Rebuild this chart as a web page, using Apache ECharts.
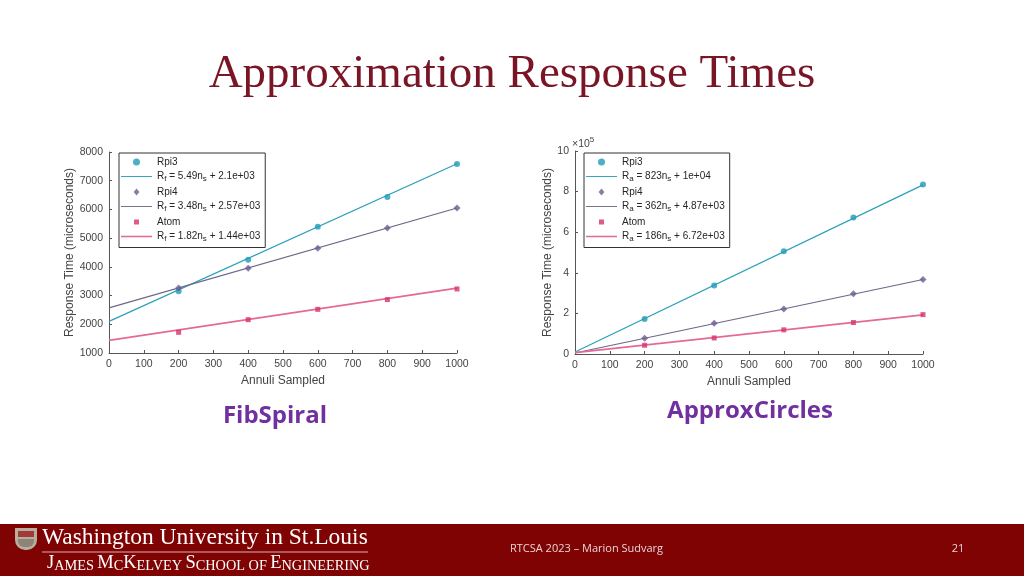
<!DOCTYPE html>
<html>
<head>
<meta charset="utf-8">
<script src="https://cdn.jsdelivr.net/npm/echarts@6/dist/echarts.min.js"></script>
<style>
html,body{margin:0;padding:0;background:#fff;}
#c{width:1024px;height:576px;}
</style>
</head>
<body>
<div id="c"></div>
<script>
// ---- data ----
const xSamples = [200, 400, 600, 800, 1000];
const fitX = [0, 1000];

// FibSpiral (microseconds)
const fibRpi3 = [3150, 4250, 5400, 6430, 7580];
const fibRpi4 = [3260, 3950, 4650, 5350, 6050];
const fibAtom = [1720, 2160, 2520, 2860, 3230];
const fibFitRpi3 = [2100, 7590];
const fibFitRpi4 = [2570, 6050];
const fibFitAtom = [1440, 3260];

// ApproxCircles (microseconds)
const apxRpi3 = [173000, 338000, 506000, 672000, 835000];
const apxRpi4 = [77000, 152000, 222000, 297000, 367000];
const apxAtom = [43000, 79000, 119000, 155000, 194000];
const apxFitRpi3 = [10000, 833000];
const apxFitRpi4 = [4870, 366870];
const apxFitAtom = [6720, 192720];

const fibLegend = ['Rpi3', 'R_f = 5.49n_s + 2.1e+03', 'Rpi4', 'R_f = 3.48n_s + 2.57e+03', 'Atom', 'R_f = 1.82n_s + 1.44e+03'];
const apxLegend = ['Rpi3', 'R_a = 823n_s + 1e+04', 'Rpi4', 'R_a = 362n_s + 4.87e+03', 'Atom', 'R_a = 186n_s + 6.72e+03'];

// ---- styles ----
const C3 = '#1f9bb6', C4 = '#6b5b8e', CA = '#d8316b';
const L3 = '#2aa0ba', L4 = '#6f6688', LA = '#e46a95';
const FONT = 'Liberation Sans, Arial, sans-serif';
const AX = '#555';
const ICONS = [
  'circle',
  'path://M0,0H100V3H0Z',
  'path://M5,0L10,6L5,12L0,6Z',
  'path://M0,0H100V3H0Z',
  'path://M-2,-2M12,12M0,0H10V10H0Z',
  'path://M0,0H100V5H0Z'
];

const pairs = (xs, ys) => xs.map((x, i) => [x, ys[i]]);
const richLabel = s => s.split(/(_[a-z])/).filter(t => t.length).map(t => t[0] === '_' ? '{s|' + t.slice(1) + '}' : '{m|' + t + '}').join('');

function scatter(name, grid, ys, sym, size, color) {
  return { type: 'scatter', name: name, xAxisIndex: grid, yAxisIndex: grid, data: pairs(xSamples, ys),
    symbol: sym, symbolSize: size, itemStyle: { color: color }, z: 5 };
}
function fit(name, grid, ys, color, w) {
  return { type: 'line', name: name, xAxisIndex: grid, yAxisIndex: grid, data: pairs(fitX, ys),
    symbol: 'none', lineStyle: { color: color, width: w }, itemStyle: { color: color }, z: 3 };
}

function xAxisCfg(grid) {
  return { gridIndex: grid, type: 'value', min: 0, max: 1000, interval: 100,
    axisLine: { show: true, lineStyle: { color: AX, width: 1 } },
    axisTick: { show: true, inside: true, length: 3, lineStyle: { color: AX } },
    axisLabel: { color: '#444', fontSize: 10.5, fontFamily: FONT, margin: 6, formatter: v => String(v) },
    splitLine: { show: false },
    name: 'Annuli Sampled', nameLocation: 'middle', nameGap: 22,
    nameTextStyle: { color: '#444', fontSize: 12, fontFamily: FONT } };
}
function yAxisCfg(grid, min, max, interval, gap, fmt) {
  return { gridIndex: grid, type: 'value', min: min, max: max, interval: interval,
    axisLine: { show: true, lineStyle: { color: AX, width: 1 } },
    axisTick: { show: true, inside: true, length: 3, lineStyle: { color: AX } },
    axisLabel: { color: '#444', fontSize: 10.5, fontFamily: FONT, margin: 6, formatter: fmt },
    splitLine: { show: false },
    name: 'Response Time (microseconds)', nameLocation: 'middle', nameGap: gap,
    nameTextStyle: { color: '#444', fontSize: 12, fontFamily: FONT } };
}
function legendCfg(labels, left, top) {
  const map = {};
  labels.forEach(l => { map[l] = richLabel(l); });
  return { orient: 'vertical', left: left, top: top, selectedMode: false,
    data: labels.map((l, i) => ({ name: l, icon: ICONS[i] })),
    itemWidth: 31, itemHeight: 7, itemGap: 4.5, padding: [4, 5, 5, 2],
    itemStyle: { borderWidth: 0 },
    borderColor: '#333', borderWidth: 1, backgroundColor: '#fff',
    formatter: n => map[n] || n,
    textStyle: { color: '#262626', fontFamily: FONT, fontSize: 10,
      rich: { m: { fontSize: 10, fontFamily: FONT, color: '#262626', lineHeight: 12 },
              s: { fontSize: 8, fontFamily: FONT, color: '#262626', verticalAlign: 'bottom', lineHeight: 2 } } } };
}

const chart = echarts.init(document.getElementById('c'), null, { renderer: 'canvas' });
chart.setOption({
  backgroundColor: '#fff',
  animation: false,
  grid: [
    { left: 109, top: 152, width: 348, height: 201 },
    { left: 575, top: 151, width: 348, height: 203 }
  ],
  xAxis: [xAxisCfg(0), xAxisCfg(1)],
  yAxis: [
    yAxisCfg(0, 1000, 8000, 1000, 31, v => String(v)),
    yAxisCfg(1, 0, 1000000, 200000, 18, v => String(Math.round(v / 100000)))
  ],
  legend: [legendCfg(fibLegend, 119, 153), legendCfg(apxLegend, 584, 153)],
  series: [
    scatter(fibLegend[0], 0, fibRpi3, 'circle', 6, C3),
    fit(fibLegend[1], 0, fibFitRpi3, L3, 1.2),
    scatter(fibLegend[2], 0, fibRpi4, 'diamond', 7, C4),
    fit(fibLegend[3], 0, fibFitRpi4, L4, 1.2),
    scatter(fibLegend[4], 0, fibAtom, 'rect', 5, CA),
    fit(fibLegend[5], 0, fibFitAtom, LA, 1.6),
    scatter(apxLegend[0], 1, apxRpi3, 'circle', 6, C3),
    fit(apxLegend[1], 1, apxFitRpi3, L3, 1.2),
    scatter(apxLegend[2], 1, apxRpi4, 'diamond', 7, C4),
    fit(apxLegend[3], 1, apxFitRpi4, L4, 1.2),
    scatter(apxLegend[4], 1, apxAtom, 'rect', 5, CA),
    fit(apxLegend[5], 1, apxFitAtom, LA, 1.6)
  ],
  graphic: [
    { type: 'text', left: 'center', top: 51, style: { text: 'Approximation Response Times', fill: '#7a1526',
      font: '47px "Liberation Serif", "Times New Roman", serif' } },
    { type: 'text', x: 275, y: 416, style: { text: 'FibSpiral', fill: '#7030a0', align: 'center', verticalAlign: 'middle',
      font: 'bold 24px "Open Sans", "Noto Sans", sans-serif' } },
    { type: 'text', x: 750, y: 411, style: { text: 'ApproxCircles', fill: '#7030a0', align: 'center', verticalAlign: 'middle',
      font: 'bold 24px "Open Sans", "Noto Sans", sans-serif' } },
    { type: 'text', x: 572, y: 136, style: { text: '{a|×10}{b|5}', rich: {
      a: { fontSize: 10.5, fontFamily: FONT, fill: '#444', verticalAlign: 'bottom', lineHeight: 14 },
      b: { fontSize: 8, fontFamily: FONT, fill: '#444', verticalAlign: 'top', lineHeight: 14 } } } },
    // footer
    { type: 'rect', shape: { x: 0, y: 524, width: 1024, height: 52 }, style: { fill: '#7f0303' } },
    { type: 'rect', shape: { x: 15, y: 528, width: 22, height: 22, r: [0, 0, 10, 10] }, style: { fill: '#b9ad9b' } },
    { type: 'rect', shape: { x: 18, y: 531, width: 16, height: 6 }, style: { fill: '#a23a3a' } },
    { type: 'rect', shape: { x: 18, y: 539, width: 16, height: 8, r: [0, 0, 6, 6] }, style: { fill: '#8d8478' } },
    { type: 'text', x: 42, y: 538, style: { text: 'Washington University in St.Louis', fill: '#fff', verticalAlign: 'middle',
      font: '23.5px "Liberation Serif", "Times New Roman", serif' } },
    { type: 'line', shape: { x1: 42, y1: 552, x2: 368, y2: 552 }, style: { stroke: '#d9b0b0', lineWidth: 1 } },
    { type: 'text', x: 47, y: 564, style: { text: '{b|J}{s|AMES} {b|M}{s|C}{b|K}{s|ELVEY} {b|S}{s|CHOOL OF} {b|E}{s|NGINEERING}', rich: {
      b: { fontSize: 18.5, fontFamily: '"Liberation Serif", serif', fill: '#fff', verticalAlign: 'bottom', lineHeight: 18 },
      s: { fontSize: 14.3, fontFamily: '"Liberation Serif", serif', fill: '#fff', verticalAlign: 'bottom', lineHeight: 18 } },
      verticalAlign: 'middle' } },
    { type: 'text', x: 510, y: 549, style: { text: 'RTCSA 2023 – Marion Sudvarg', fill: '#e9d3d3', verticalAlign: 'middle',
      font: '11px "Open Sans", "Noto Sans", sans-serif' } },
    { type: 'text', x: 958, y: 549, style: { text: '21', fill: '#e9d3d3', align: 'center', verticalAlign: 'middle',
      font: '11px "Open Sans", "Noto Sans", sans-serif' } }
  ]
});
</script>
</body>
</html>
